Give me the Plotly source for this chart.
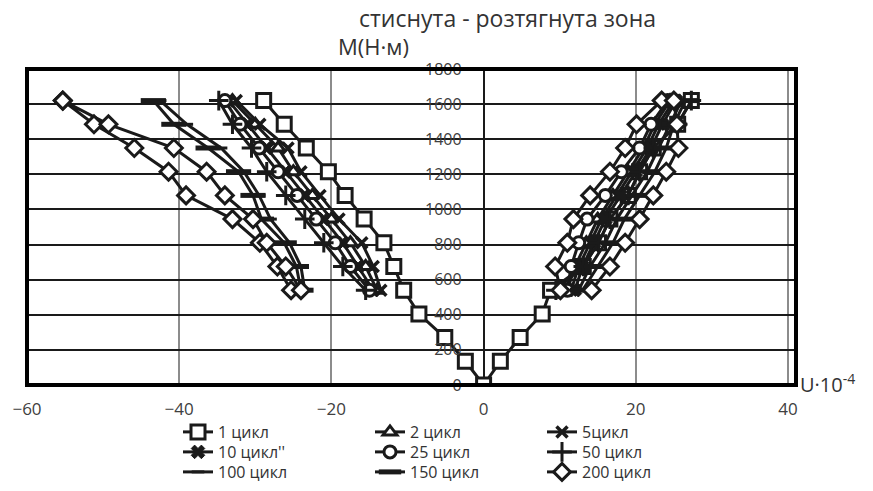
import plotly.graph_objects as go

# Bending moment levels, N·m
M_low = [0, 135, 270, 405]
M = [540, 675, 810, 945, 1080, 1215, 1350, 1485, 1620]

# Strain U·10^-4, compressed zone (negative) and tensile zone (positive)
u1_low_c = [0, -2.4, -5.1, -8.5]
u1_low_t = [0, 2.2, 4.8, 7.7]
u1_c = [-10.5, -11.8, -13.1, -15.7, -18.2, -20.4, -23.3, -26.2, -28.9]
u1_t = [8.8, 13.1, 15.1, 16.6, 19.0, 20.5, 22.3, 25.5, 27.3]

u2_c = [-14.0, -15.5, -17.5, -20.0, -22.5, -25.0, -27.0, -30.0, -33.0]
u2_t = [11.0, 12.0, 13.5, 15.0, 17.0, 19.0, 21.0, 22.5, 24.5]

u5_c = [-13.5, -14.5, -16.0, -19.0, -21.5, -24.0, -25.7, -29.4, -32.5]
u5_t = [11.5, 12.5, 14.0, 15.5, 17.5, 19.5, 21.5, 23.0, 25.0]

u10_c = [-14.5, -16.5, -18.5, -21.0, -23.5, -26.0, -28.5, -31.0, -33.5]
u10_t = [12.0, 13.0, 14.5, 16.0, 18.0, 20.0, 22.0, 23.5, 25.3]

u25_c = [-15.0, -17.5, -19.5, -22.0, -24.5, -27.0, -29.5, -32.0, -34.0]
u25_t = [11.0, 11.5, 12.5, 13.6, 16.0, 18.1, 20.5, 22.0, 24.2]

u50_c = [-15.5, -18.5, -21.0, -23.5, -26.0, -28.5, -30.5, -33.0, -34.8]
u50_t = [9.5, 13.1, 15.1, 16.6, 19.0, 20.5, 22.3, 25.5, 27.3]

u100_c = [-23.5, -24.0, -25.5, -28.0, -29.5, -31.5, -34.5, -39.0, -42.5]
u100_t = [12.5, 14.0, 16.0, 17.5, 19.5, 21.5, 23.0, 24.5, 26.0]

u150_c = [-24.0, -24.6, -26.2, -29.2, -30.3, -32.2, -36.2, -40.7, -43.4]
u150_t = [13.0, 15.0, 17.0, 18.5, 20.5, 22.5, 24.0, 25.0, 26.5]

# 200 cycles: loading and unloading branches
u200_c_load = [-25.3, -27.1, -29.4, -33.0, -39.1, -41.4, -45.9, -51.2, -55.3]
u200_c_unload = [-24.0, -26.0, -28.5, -30.3, -34.0, -36.4, -40.7, -49.3, -55.3]
u200_t_load = [10.1, 9.4, 11.0, 11.8, 14.0, 16.6, 18.6, 20.1, 23.4]
u200_t_unload = [14.2, 16.6, 18.6, 20.5, 22.3, 24.0, 25.6, 25.4, 25.0]

labels = ["1 цикл", "2 цикл", "5цикл", "10 цикл''", "25 цикл",
          "50 цикл", "100 цикл", "150 цикл", "200 цикл"]

x_ticks = [-60, -40, -20, 0, 20, 40]
y_ticks = [0, 200, 400, 600, 800, 1000, 1200, 1400, 1600, 1800]

INK = "#1a1a1a"
FONT = "Open Sans"


def both_zones(comp, tens):
    xs = list(reversed(comp)) + [None] + list(tens)
    ys = list(reversed(M)) + [None] + list(M)
    return xs, ys


def loop(a, b):
    return list(a) + list(reversed(b))


series = []
# 1 cycle: continuous from the compressed top through zero to the tensile top
x1 = list(reversed(u1_low_c + u1_c)) + (u1_low_t + u1_t)[1:]
y1 = list(reversed(M_low + M)) + (M_low + M)[1:]
series.append((x1, y1, dict(symbol="square", size=14, color="white",
                            line=dict(color=INK, width=3))))
for comp, tens, mk in [
    (u2_c, u2_t, dict(symbol="triangle-up", size=12, color="white",
                      line=dict(color=INK, width=3))),
    (u5_c, u5_t, dict(symbol="x-thin-open", size=11,
                      line=dict(color=INK, width=3.5))),
    (u10_c, u10_t, dict(symbol="x", size=12, color=INK,
                        line=dict(color=INK, width=1))),
    (u25_c, u25_t, dict(symbol="circle", size=12, color="white",
                        line=dict(color=INK, width=3))),
    (u50_c, u50_t, dict(symbol="cross-thin-open", size=14,
                        line=dict(color=INK, width=3))),
    (u100_c, u100_t, dict(symbol="line-ew-open", size=9,
                          line=dict(color=INK, width=3))),
    (u150_c, u150_t, dict(symbol="line-ew-open", size=18,
                          line=dict(color=INK, width=5))),
]:
    xs, ys = both_zones(comp, tens)
    series.append((xs, ys, mk))

# 200 cycles: closed loops in each zone
x200 = loop(u200_c_load, u200_c_unload) + [None] + loop(u200_t_load, u200_t_unload)
y200 = loop(M, M) + [None] + loop(M, M)
series.append((x200, y200, dict(symbol="diamond", size=13, color="white",
                                line=dict(color=INK, width=3))))

W, H = 873, 491
L, R, T, B = 27, 77, 69, 106
PW = W - L - R
PH = H - T - B
x_min = -60
x_max = x_min + 100 * PW / 761.0


def px(xp):
    return (xp - L) / PW


def py(yp):
    return (H - B - yp) / PH


# legend grid: 3 columns x 3 rows, one legend box per entry
col_x = [178, 370, 542]
row_top = [415, 435, 455]

fig = go.Figure()
legends = {}
for i, ((xs, ys, mk), name) in enumerate(zip(series, labels)):
    key = "legend" if i == 0 else f"legend{i + 1}"
    fig.add_trace(go.Scatter(
        x=xs, y=ys, name=name, mode="lines+markers",
        line=dict(color=INK, width=3), marker=mk,
        connectgaps=False, legend=key,
    ))
    r, c = divmod(i, 3)
    legends[key] = dict(
        x=col_x[c] / W, y=1 - row_top[r] / H,
        xref="container", yref="container", xanchor="left", yanchor="top",
        bgcolor="rgba(0,0,0,0)", borderwidth=0,
        font=dict(family=FONT, size=16, color="#333333"),
    )

fig.update_layout(
    width=W, height=H,
    margin=dict(l=L, r=R, t=T, b=B, pad=0, autoexpand=False),
    paper_bgcolor="white", plot_bgcolor="white",
    font=dict(family=FONT, color="#404040"),
    showlegend=True,
    xaxis=dict(
        range=[x_min, x_max], tickvals=x_ticks, showgrid=True,
        gridcolor="#8c8c8c", gridwidth=1.5, zeroline=True,
        zerolinecolor=INK, zerolinewidth=1.5, showline=False,
        ticks="", tickfont=dict(family=FONT, size=17, color="#404040"),
        tickangle=0, automargin=False, ticklabelstandoff=12,
    ),
    yaxis=dict(
        range=[0, 1800], tickvals=y_ticks, showgrid=True,
        gridcolor=INK, gridwidth=1.5, zeroline=False, showline=False,
        anchor="free", position=(0 - x_min) / (x_max - x_min),
        ticks="", tickfont=dict(family=FONT, size=16, color="#404040"),
        automargin=False, ticklabelstandoff=22,
    ),
    shapes=[dict(type="rect", xref="paper", yref="paper", x0=0, x1=1,
                 y0=0, y1=1, line=dict(color="black", width=4),
                 fillcolor="rgba(0,0,0,0)", layer="above")],
    annotations=[
        dict(text="стиснута - розтягнута зона", xref="paper", yref="paper",
             x=px(507), y=py(18), xanchor="center", yanchor="middle",
             showarrow=False, font=dict(family=FONT, size=23, color="#333333")),
        dict(text="M(Н·м)", xref="paper", yref="paper",
             x=px(336), y=py(46), xanchor="left", yanchor="middle",
             showarrow=False, font=dict(family=FONT, size=22, color="#333333")),
        dict(text="U·10<sup>-4</sup>", xref="paper", yref="paper",
             x=px(798), y=py(383), xanchor="left", yanchor="middle",
             showarrow=False, font=dict(family=FONT, size=20, color="#333333")),
    ],
    **legends,
)

fig.write_html("out.html")
